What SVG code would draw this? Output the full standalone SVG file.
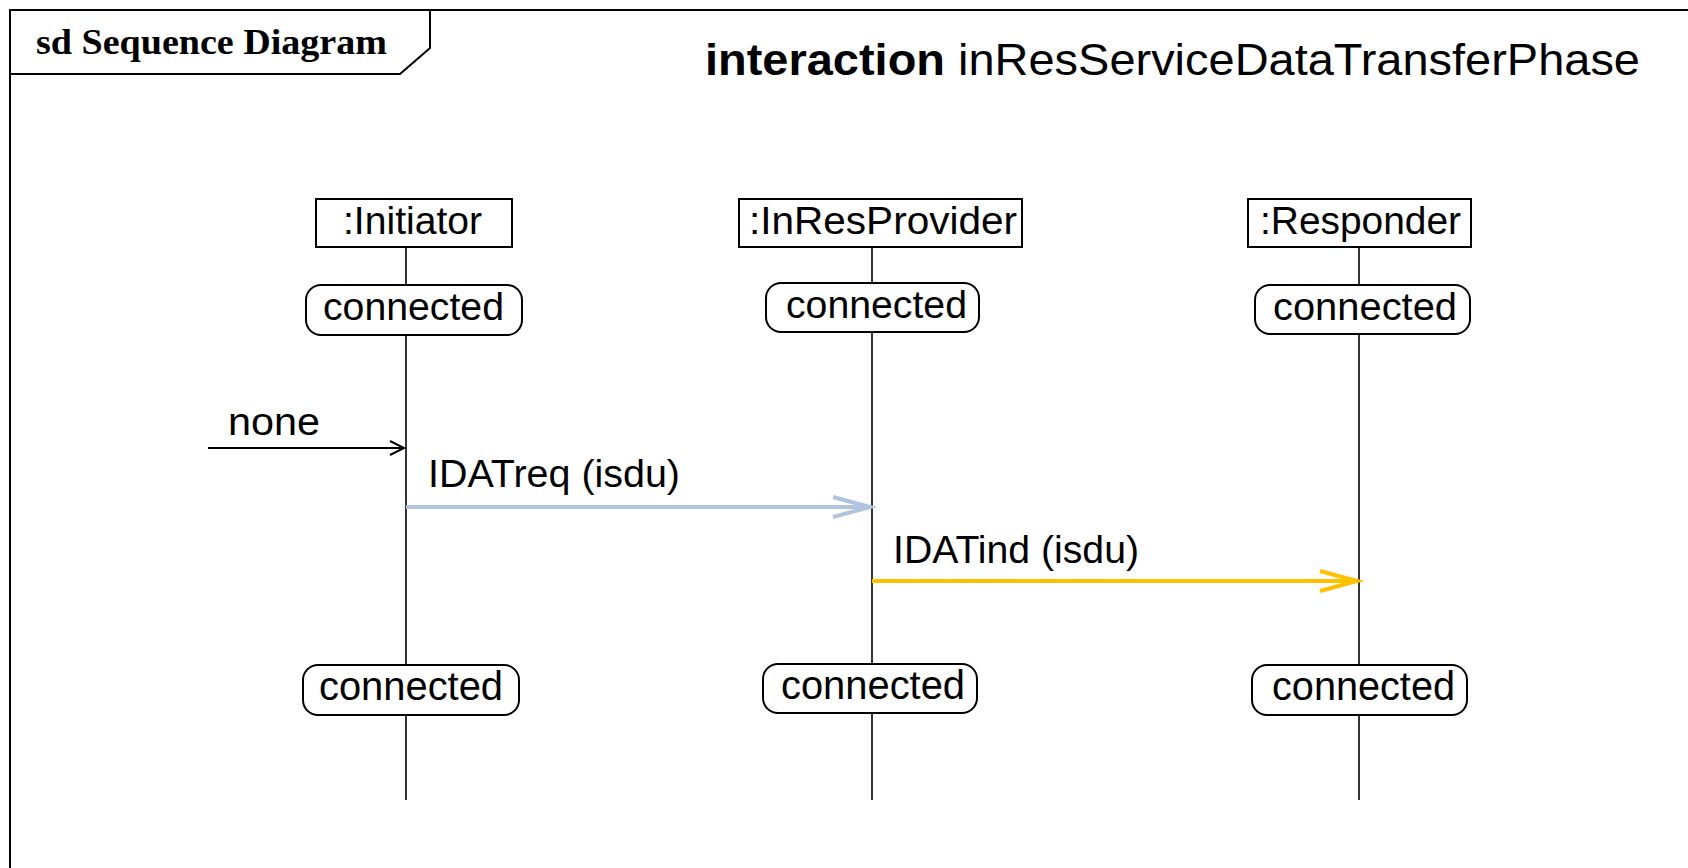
<svg xmlns="http://www.w3.org/2000/svg" width="1688" height="868" viewBox="0 0 1688 868">
<style>
.frame{fill:none;stroke:#000;stroke-width:2}
.head{fill:#fff;stroke:#000;stroke-width:2}
.state{fill:#fff;stroke:#000;stroke-width:2}
.life{stroke:#000;stroke-width:1.6}
.t{font-family:"Liberation Sans",Arial,sans-serif;fill:#000}
.tab{font-family:"Liberation Serif","Times New Roman",serif;font-weight:bold;font-size:35px;fill:#000}
</style>
<defs>
<marker id="ahBlack" markerUnits="userSpaceOnUse" markerWidth="30" markerHeight="30" viewBox="-20 -15 30 30" refX="0" refY="0" orient="auto">
<path d="M-14,-7 L0,0 L-14,7" fill="none" stroke="#000" stroke-width="2"/>
</marker>
<marker id="ahBlue" markerUnits="userSpaceOnUse" markerWidth="60" markerHeight="40" viewBox="-50 -20 60 40" refX="0" refY="0" orient="auto">
<path d="M-37,-10 L0,0 L-37,10" fill="none" stroke="#B0C4DE" stroke-width="4"/>
</marker>
<marker id="ahGold" markerUnits="userSpaceOnUse" markerWidth="60" markerHeight="40" viewBox="-50 -20 60 40" refX="0" refY="0" orient="auto">
<path d="M-37,-10 L0,0 L-37,10" fill="none" stroke="#FFC000" stroke-width="4"/>
</marker>
</defs>
<rect width="1688" height="868" fill="#fff"/>
<g id="frame">
<rect class="frame" x="10" y="10" width="1700" height="880"/>
<path class="frame" d="M10,74 H400 L430,48 V10"/>
<text class="tab" x="36" y="54" textLength="351" lengthAdjust="spacingAndGlyphs">sd Sequence Diagram</text>
<text class="t" x="705" y="75" font-size="45" textLength="935" lengthAdjust="spacingAndGlyphs"><tspan font-weight="bold">interaction</tspan> inResServiceDataTransferPhase</text>
</g>
<g id="initiator">
<line class="life" x1="406" y1="247" x2="406" y2="800"/>
<rect class="head" x="316" y="199" width="196" height="48"/>
<text class="t" x="343" y="234" font-size="38" textLength="139" lengthAdjust="spacingAndGlyphs">:Initiator</text>
<rect class="state" x="306" y="285" width="216" height="50" rx="15"/>
<text class="t" x="323" y="320" font-size="39" textLength="181" lengthAdjust="spacingAndGlyphs">connected</text>
<rect class="state" x="303" y="665" width="216" height="50" rx="15"/>
<text class="t" x="319" y="700" font-size="40" textLength="184" lengthAdjust="spacingAndGlyphs">connected</text>
</g>
<g id="inResProvider">
<line class="life" x1="872" y1="247" x2="872" y2="800"/>
<rect class="head" x="739" y="199" width="283" height="48"/>
<text class="t" x="749" y="234" font-size="38" textLength="268" lengthAdjust="spacingAndGlyphs">:InResProvider</text>
<rect class="state" x="766" y="283" width="213" height="49" rx="15"/>
<text class="t" x="786" y="318" font-size="39" textLength="181" lengthAdjust="spacingAndGlyphs">connected</text>
<rect class="state" x="763" y="664" width="214" height="49" rx="15"/>
<text class="t" x="781" y="699" font-size="40" textLength="184" lengthAdjust="spacingAndGlyphs">connected</text>
</g>
<g id="responder">
<line class="life" x1="1359" y1="247" x2="1359" y2="800"/>
<rect class="head" x="1248" y="199" width="223" height="48"/>
<text class="t" x="1260" y="234" font-size="38" textLength="201" lengthAdjust="spacingAndGlyphs">:Responder</text>
<rect class="state" x="1255" y="285" width="215" height="49" rx="15"/>
<text class="t" x="1273" y="320" font-size="39" textLength="184" lengthAdjust="spacingAndGlyphs">connected</text>
<rect class="state" x="1252" y="665" width="215" height="50" rx="15"/>
<text class="t" x="1272" y="700" font-size="40" textLength="183" lengthAdjust="spacingAndGlyphs">connected</text>
</g>
<g id="connectors">
<line x1="208" y1="448" x2="404" y2="448" stroke="#000" stroke-width="2" marker-end="url(#ahBlack)"/>
<text class="t" x="228" y="435" font-size="38" textLength="92" lengthAdjust="spacingAndGlyphs">none</text>
<line x1="406" y1="507" x2="870" y2="507" stroke="#B0C4DE" stroke-width="4" marker-end="url(#ahBlue)"/>
<text class="t" x="428" y="487" font-size="38" textLength="252" lengthAdjust="spacingAndGlyphs">IDATreq (isdu)</text>
<line x1="872" y1="581" x2="1357" y2="581" stroke="#FFC000" stroke-width="4" marker-end="url(#ahGold)"/>
<text class="t" x="893" y="563" font-size="38" textLength="246" lengthAdjust="spacingAndGlyphs">IDATind (isdu)</text>
</g>
</svg>
